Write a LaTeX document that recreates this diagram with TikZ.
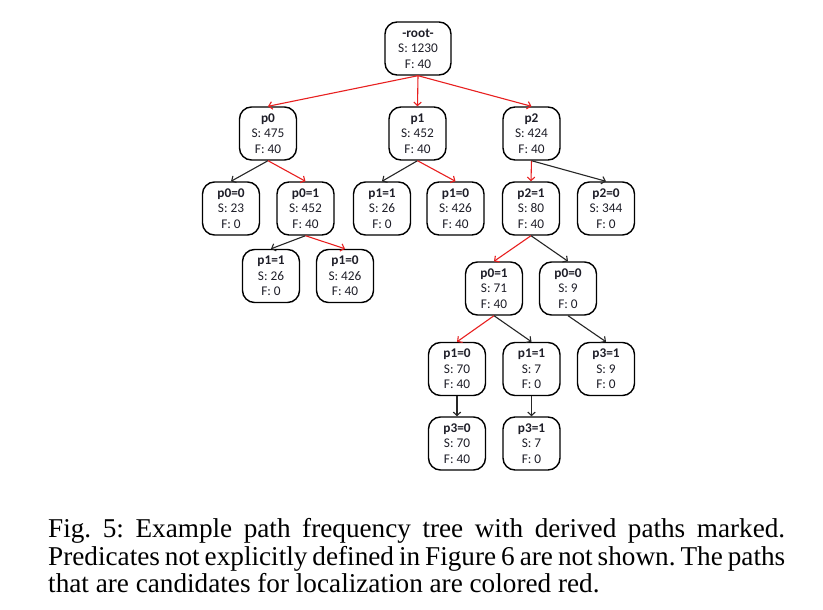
\documentclass[tikz,border=0pt]{standalone}
\usepackage{fontspec}
\setmainfont{Liberation Serif}
\newfontfamily\nodefont{Carlito}
\usetikzlibrary{arrows.meta}
\definecolor{edgered}{RGB}{232,32,32}
\definecolor{txt}{RGB}{30,30,40}
\begin{document}
\begin{tikzpicture}[x=1pt,y=1pt,
  tnode/.style={draw=black, line width=1.4pt, rounded corners=12pt, minimum width=57pt, minimum height=53pt,
    inner sep=0pt, align=center, text=txt, font=\nodefont\fontsize{13.3}{15.5}\selectfont},
  rootnode/.style={tnode, minimum width=66pt},
  edge/.style={line width=1.1pt, -{Straight Barb[length=3.5pt,width=7.5pt]}},
  redge/.style={edge, draw=edgered},
  bedge/.style={edge, draw=black!85}]
\useasboundingbox (0,0) rectangle (823,-610);
\fill[white] (0,0) rectangle (823,-610);
% level 0
\node[rootnode] (root) at (418,-48.5) {\textbf{-root-}\\S: 1230\\F: 40};
% level 1
\node[tnode] (p0) at (268,-133.5) {\textbf{p0}\\S: 475\\F: 40};
\node[tnode] (p1) at (417.5,-133.5) {\textbf{p1}\\S: 452\\F: 40};
\node[tnode] (p2) at (531.5,-133.5) {\textbf{p2}\\S: 424\\F: 40};
% level 2
\node[tnode] (p0e0) at (231,-208.5) {\textbf{p0=0}\\S: 23\\F: 0};
\node[tnode] (p0e1) at (305.5,-208.5) {\textbf{p0=1}\\S: 452\\F: 40};
\node[tnode] (p1e1) at (382,-208.5) {\textbf{p1=1}\\S: 26\\F: 0};
\node[tnode] (p1e0) at (455.5,-208.5) {\textbf{p1=0}\\S: 426\\F: 40};
\node[tnode] (p2e1) at (531,-208.5) {\textbf{p2=1}\\S: 80\\F: 40};
\node[tnode] (p2e0) at (606,-208.5) {\textbf{p2=0}\\S: 344\\F: 0};
% level 3
\node[tnode] (ap1e1) at (271,-276) {\textbf{p1=1}\\S: 26\\F: 0};
\node[tnode] (ap1e0) at (345,-276) {\textbf{p1=0}\\S: 426\\F: 40};
\node[tnode] (bp0e1) at (494,-288.5) {\textbf{p0=1}\\S: 71\\F: 40};
\node[tnode] (bp0e0) at (568,-288.5) {\textbf{p0=0}\\S: 9\\F: 0};
% level 4
\node[tnode] (cp1e0) at (457,-369) {\textbf{p1=0}\\S: 70\\F: 40};
\node[tnode] (cp1e1) at (531.5,-369) {\textbf{p1=1}\\S: 7\\F: 0};
\node[tnode] (cp3e1) at (606,-369) {\textbf{p3=1}\\S: 9\\F: 0};
% level 5
\node[tnode] (dp3e0) at (457,-443.5) {\textbf{p3=0}\\S: 70\\F: 40};
\node[tnode] (dp3e1) at (531.5,-443.5) {\textbf{p3=1}\\S: 7\\F: 0};
% edges
\draw[redge] (root.south) -- (p0.north);
\draw[redge] (root.south) -- (p1.north);
\draw[redge] (root.south) -- (p2.north);
\draw[bedge] (p0.south) -- (p0e0.north);
\draw[redge] (p0.south) -- (p0e1.north);
\draw[bedge] (p1.south) -- (p1e1.north);
\draw[redge] (p1.south) -- (p1e0.north);
\draw[redge] (p2.south) -- (p2e1.north);
\draw[bedge] (p2.south) -- (p2e0.north);
\draw[bedge] (p0e1.south) -- (ap1e1.north);
\draw[redge] (p0e1.south) -- (ap1e0.north);
\draw[redge] (p2e1.south) -- (bp0e1.north);
\draw[bedge] (p2e1.south) -- (bp0e0.north);
\draw[redge] (bp0e1.south) -- (cp1e0.north);
\draw[bedge] (bp0e1.south) -- (cp1e1.north);
\draw[bedge] (bp0e0.south) -- (cp3e1.north);
\draw[bedge] (cp1e0.south) -- (dp3e0.north);
\draw[bedge] (cp1e1.south) -- (dp3e1.north);
% caption
\node[anchor=north west, inner sep=0pt, text width=737pt, align=justify,
  font=\fontsize{27.2}{27.7}\selectfont\frenchspacing] (cap) at (48,-518.0)
  {\noindent Fig. 5: Example path frequency tree with derived paths marked.\linebreak
   Predicates not explicitly defined in Figure 6 are not shown. The paths\linebreak
   that are candidates for localization are colored red.};
\end{tikzpicture}
\end{document}
